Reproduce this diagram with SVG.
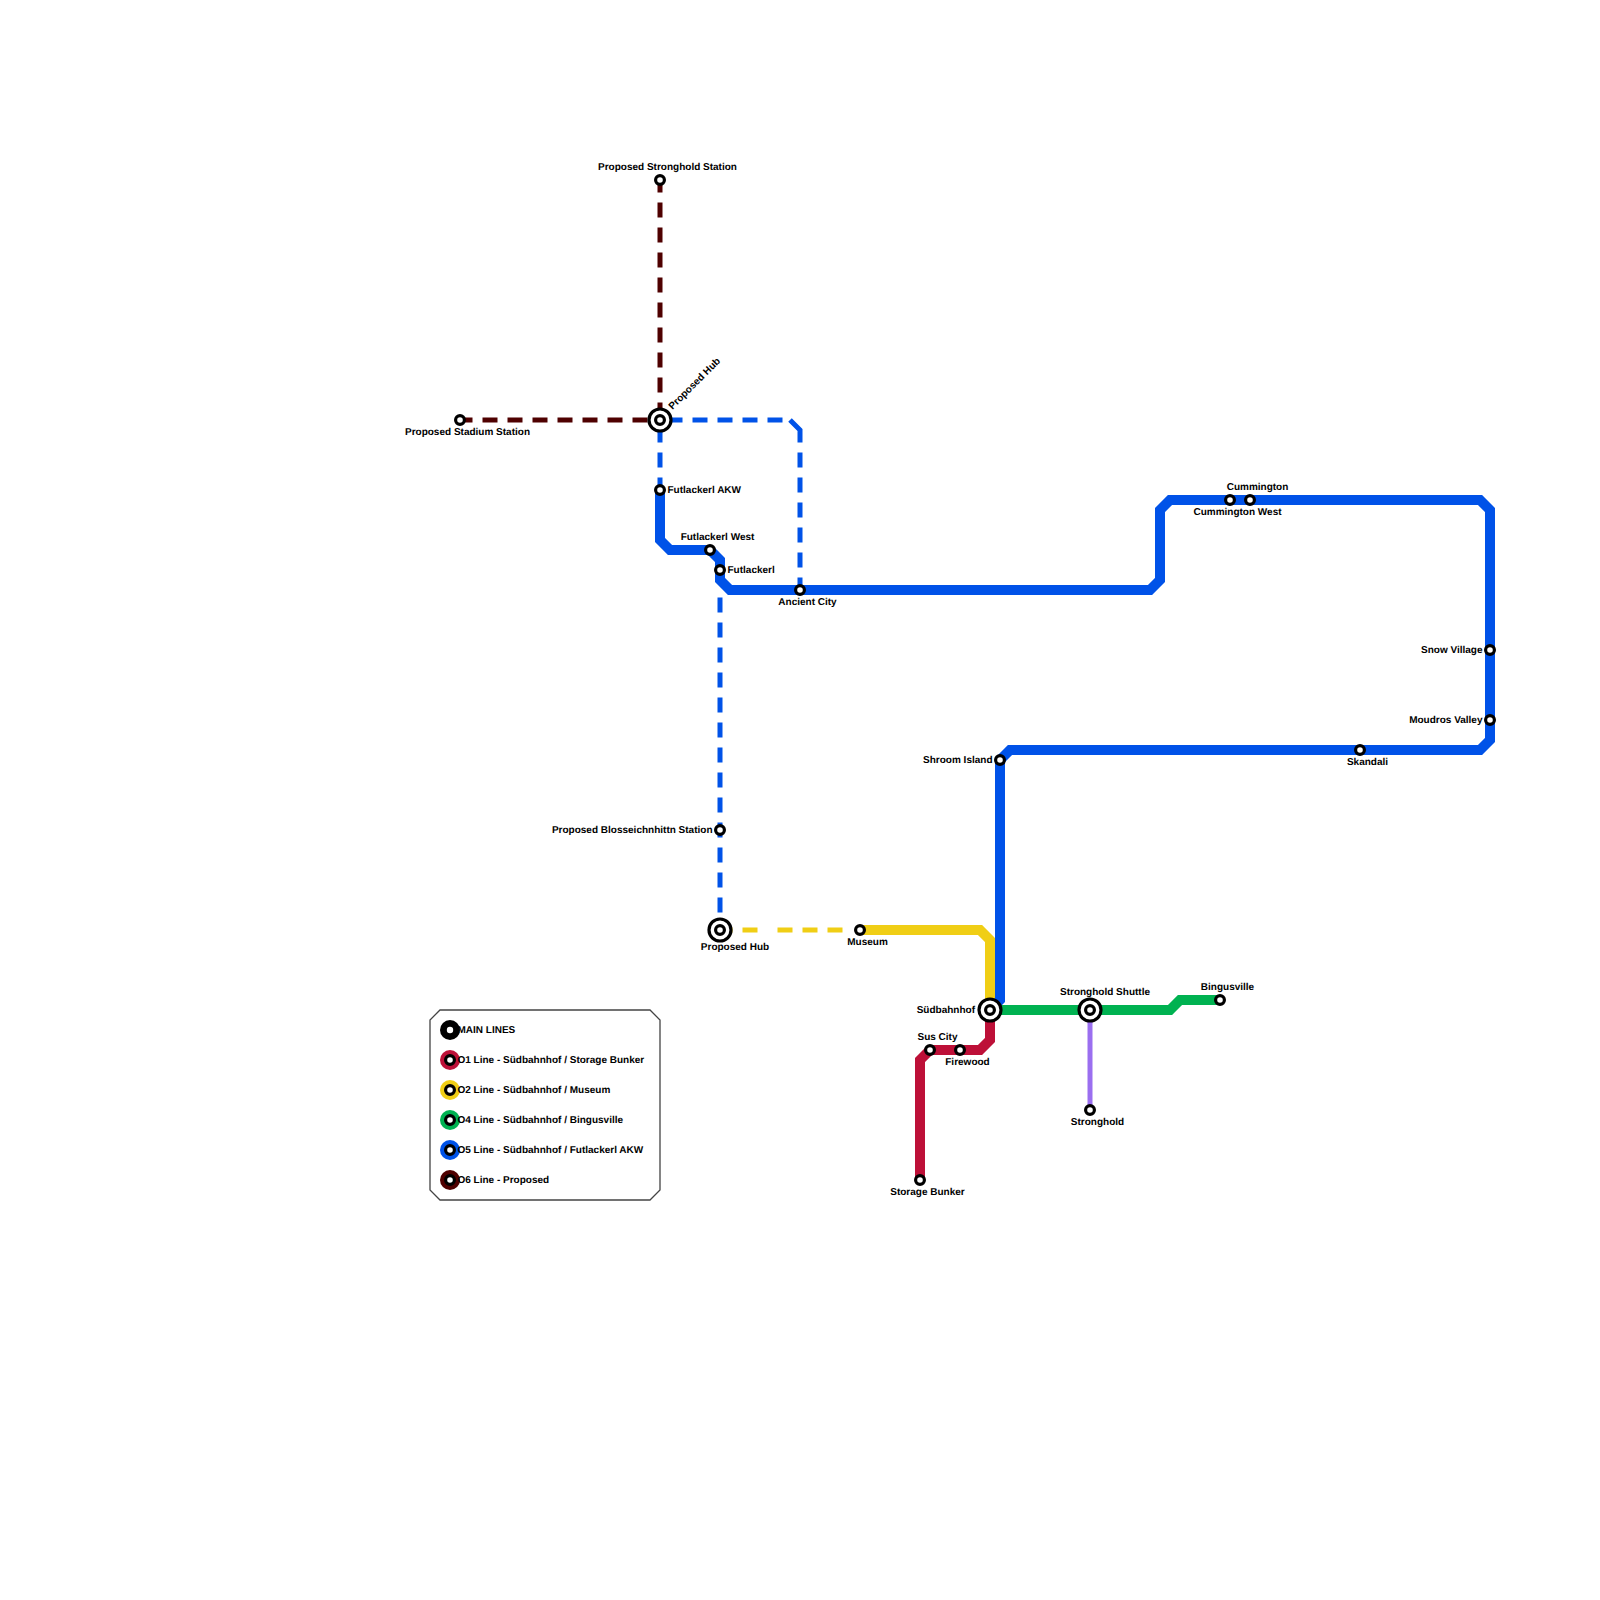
<svg xmlns="http://www.w3.org/2000/svg" width="1600" height="1600" viewBox="0 0 1600 1600">
<style>
text{font-family:"Liberation Sans",Arial,sans-serif;font-size:10px;font-weight:700;fill:#000;text-rendering:geometricPrecision}
.l{fill:none;stroke-linejoin:miter}
.s{stroke-width:10}
.d{stroke-width:5;stroke-dasharray:15 10}
.st{fill:#fff;stroke:#000;stroke-width:3.2}
.e{text-anchor:end}
.m{text-anchor:middle}
</style>
<defs>
<g id="stn"><circle class="st" r="4.4"/></g>
<g id="hub"><circle class="st" r="11"/><circle class="st" r="4.4"/></g>
</defs>
<rect width="1600" height="1600" fill="#fff"/>
<g id="connectors">
<path class="l d" stroke="#0052e8" stroke-dashoffset="17.5" d="M660 420V490"/>
<path class="l d" stroke="#0052e8" stroke-dashoffset="17.5" d="M660 420H790"/>
<path class="l" stroke="#0052e8" stroke-width="5" d="M790 420L800 430V442.5"/>
<path class="l d" stroke="#0052e8" d="M800 592.5V452.5"/>
<path class="l d" stroke="#0052e8" stroke-dashoffset="17.5" d="M720 590V930"/>
<path class="l" stroke="#f0ce15" stroke-width="5" stroke-dasharray="12.5 10 15 20 15 10 15 10 15 100" d="M720 930H860"/>
<path class="l d" stroke="#4f0000" stroke-dashoffset="2.5" d="M460 420H660"/>
<path class="l d" stroke="#4f0000" stroke-dashoffset="2.5" d="M660 180V420"/>
<path class="l s" stroke="#f0ce15" d="M860 930H980L990 940V1010"/>
<path class="l s" stroke="#0052e8" d="M660 490V540L670 550H710L720 560V580L730 590H1150L1160 580V510L1170 500H1480L1490 510V740L1480 750H1010L1000 760V1000L990 1010"/>
<path class="l s" stroke="#bd1038" d="M990 1010V1040L980 1050H930L920 1060V1180"/>
<path class="l s" stroke="#00b251" d="M990 1010H1170L1180 1000H1220"/>
<path class="l" stroke="#9b6ff0" stroke-width="5" d="M1090 1010V1110"/>
</g>
<g id="n-hub-north"><use href="#hub" x="660" y="420"/><text x="672.5" y="410" transform="rotate(-45 672.5 410)">Proposed Hub</text></g>
<g id="n-stronghold-stn"><use href="#stn" x="660" y="180"/><text x="667.5" y="169.7" class="m">Proposed Stronghold Station</text></g>
<g id="n-stadium"><use href="#stn" x="460" y="420"/><text x="467.5" y="434.7" class="m">Proposed Stadium Station</text></g>
<g id="n-futlackerl-akw"><use href="#stn" x="660" y="490"/><text x="667.5" y="492.6">Futlackerl AKW</text></g>
<g id="n-futlackerl-west"><use href="#stn" x="710" y="550"/><text x="717.5" y="539.7" class="m">Futlackerl West</text></g>
<g id="n-futlackerl"><use href="#stn" x="720" y="570"/><text x="727.5" y="572.6">Futlackerl</text></g>
<g id="n-ancient"><use href="#stn" x="800" y="590"/><text x="807.5" y="604.7" class="m">Ancient City</text></g>
<g id="n-cummington-west"><use href="#stn" x="1230" y="500"/><text x="1237.5" y="514.7" class="m">Cummington West</text></g>
<g id="n-cummington"><use href="#stn" x="1250" y="500"/><text x="1257.5" y="489.7" class="m">Cummington</text></g>
<g id="n-snow"><use href="#stn" x="1490" y="650"/><text x="1482.5" y="652.6" class="e">Snow Village</text></g>
<g id="n-moudros"><use href="#stn" x="1490" y="720"/><text x="1482.5" y="722.6" class="e">Moudros Valley</text></g>
<g id="n-skandali"><use href="#stn" x="1360" y="750"/><text x="1367.5" y="764.7" class="m">Skandali</text></g>
<g id="n-shroom"><use href="#stn" x="1000" y="760"/><text x="992.5" y="762.6" class="e">Shroom Island</text></g>
<g id="n-blosse"><use href="#stn" x="720" y="830"/><text x="712.5" y="832.6" class="e">Proposed Blosseichnhittn Station</text></g>
<g id="n-hub-south"><use href="#hub" x="720" y="930"/><text x="735" y="949.7" class="m">Proposed Hub</text></g>
<g id="n-museum"><use href="#stn" x="860" y="930"/><text x="867.5" y="944.7" class="m">Museum</text></g>
<g id="n-sud"><use href="#hub" x="990" y="1010"/><text x="975" y="1012.6" class="e">Südbahnhof</text></g>
<g id="n-shuttle"><use href="#hub" x="1090" y="1010"/><text x="1105" y="994.7" class="m">Stronghold Shuttle</text></g>
<g id="n-bingus"><use href="#stn" x="1220" y="1000"/><text x="1227.5" y="989.7" class="m">Bingusville</text></g>
<g id="n-stronghold"><use href="#stn" x="1090" y="1110"/><text x="1097.5" y="1124.7" class="m">Stronghold</text></g>
<g id="n-sus"><use href="#stn" x="930" y="1050"/><text x="937.5" y="1039.7" class="m">Sus City</text></g>
<g id="n-firewood"><use href="#stn" x="960" y="1050"/><text x="967.5" y="1064.7" class="m">Firewood</text></g>
<g id="n-bunker"><use href="#stn" x="920" y="1180"/><text x="927.5" y="1194.7" class="m">Storage Bunker</text></g>
<g id="legend">
<path d="M440 1010H650L660 1020V1190L650 1200H440L430 1190V1020Z" fill="#fff" stroke="#444" stroke-width="1.3"/>
<circle cx="450" cy="1030" r="10" fill="#000"/><circle cx="450" cy="1030" r="3.2" fill="#fff"/>
<circle cx="450" cy="1060" r="10" fill="#bd1038"/><use href="#stn" x="450" y="1060"/>
<circle cx="450" cy="1090" r="10" fill="#f0ce15"/><use href="#stn" x="450" y="1090"/>
<circle cx="450" cy="1120" r="10" fill="#00b251"/><use href="#stn" x="450" y="1120"/>
<circle cx="450" cy="1150" r="10" fill="#0052e8"/><use href="#stn" x="450" y="1150"/>
<circle cx="450" cy="1180" r="10" fill="#4f0000"/><use href="#stn" x="450" y="1180"/>
<text x="457.5" y="1032.6">MAIN LINES</text>
<text x="457.5" y="1062.6">O1 Line - Südbahnhof / Storage Bunker</text>
<text x="457.5" y="1092.6">O2 Line - Südbahnhof / Museum</text>
<text x="457.5" y="1122.6">O4 Line - Südbahnhof / Bingusville</text>
<text x="457.5" y="1152.6">O5 Line - Südbahnhof / Futlackerl AKW</text>
<text x="457.5" y="1182.6">O6 Line - Proposed</text>
</g>
</svg>
